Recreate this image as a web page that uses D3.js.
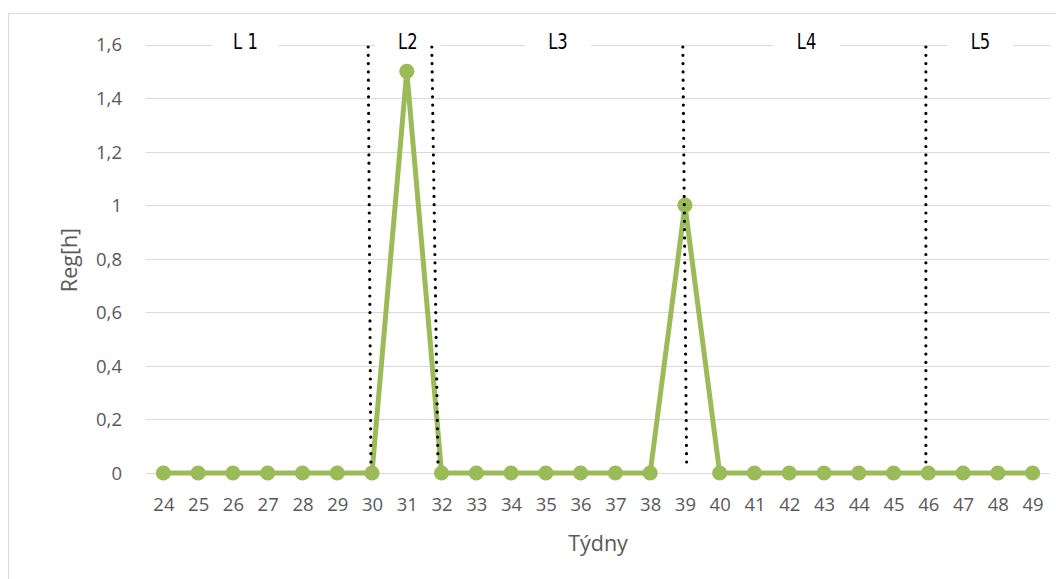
<!DOCTYPE html>
<html><head><meta charset="utf-8">
<script src="https://cdn.jsdelivr.net/npm/d3@7"></script>
<style>body{margin:0;background:#fff}svg{display:block}</style>
</head><body>
<svg id="c" width="1056" height="579"></svg>
<script>
const weeks = [24,25,26,27,28,29,30,31,32,33,34,35,36,37,38,39,40,41,42,43,44,45,46,47,48,49];
const regValues = [0,0,0,0,0,0,0,1.5,0,0,0,0,0,0,0,1,0,0,0,0,0,0,0,0,0,0];
const yTicks = [0,0.2,0.4,0.6,0.8,1,1.2,1.4,1.6];
const phaseLabels = ["L 1","L2","L3","L4","L5"];
const phaseLabelWeeks = [26.36,31.03,35.35,42.5,47.5];
const dividerTopWeeks = [29.89,31.72,38.94,45.93];
const dividerBottomWeeks = [29.97,31.9,39.05,45.93];

const svg = d3.select("#c");
const m = {l:146, r:1050, t:44.5, b:473};
const font = "'Open Sans', 'Noto Sans', sans-serif";

// frame
svg.append("rect").attr("x",8.5).attr("y",13.5).attr("width",1060).attr("height",600)
  .attr("fill","none").attr("stroke","#d9d9d9").attr("stroke-width",1);

const x = d3.scalePoint().domain(weeks).range([m.l, m.r]).padding(0.5);
const step = x.step();
const xLin = w => x(weeks[0]) + (w - weeks[0]) * step;
const y = d3.scaleLinear().domain([0,1.6]).range([m.b, m.t]);

// gridlines
svg.append("g").selectAll("line").data(yTicks).join("line")
  .attr("x1",m.l).attr("x2",m.r)
  .attr("y1",d=>Math.round(y(d))+0.5).attr("y2",d=>Math.round(y(d))+0.5)
  .attr("stroke","#d9d9d9").attr("stroke-width",1.2);

const fmt = d => String(d).replace(".", ",");
// y axis labels
const yAxis = d3.axisLeft(y).tickValues(yTicks).tickFormat(fmt).tickSize(0).tickPadding(0);
const gy = svg.append("g").attr("transform",`translate(122,0)`).call(yAxis);
gy.select(".domain").remove();
gy.selectAll("text").attr("fill","#595959").attr("font-size","18.5px")
  .attr("font-family",font).attr("dy","0.35em");

// x axis labels
const xAxis = d3.axisBottom(x).tickSize(0).tickPadding(0);
const gx = svg.append("g").attr("transform",`translate(0,498)`).call(xAxis);
gx.select(".domain").remove();
gx.selectAll("text").attr("fill","#595959").attr("font-size","18.5px")
  .attr("font-family",font);

// axis titles
svg.append("text").attr("x",598).attr("y",551).attr("text-anchor","middle")
  .attr("fill","#595959").attr("font-size","21.5px")
  .attr("font-family",font).text("Týdny");
svg.append("text").attr("transform","translate(77,260) rotate(-90)").attr("text-anchor","middle")
  .attr("fill","#595959").attr("font-size","21.5px")
  .attr("font-family",font).text("Reg[h]");

// series
const data = weeks.map((w,i)=>({w, v: regValues[i]}));
svg.append("path").datum(data)
  .attr("d", d3.line().x(d=>x(d.w)).y(d=>y(d.v)))
  .attr("fill","none").attr("stroke","#9BBB59").attr("stroke-width",5).attr("stroke-linejoin","round");
svg.append("g").selectAll("circle").data(data).join("circle")
  .attr("cx",d=>x(d.w)).attr("cy",d=>y(d.v)).attr("r",7.6).attr("fill","#9BBB59");

// label backgrounds and labels
const lg = svg.append("g");
phaseLabels.forEach((t,i)=>{
  const cx = xLin(phaseLabelWeeks[i]);
  lg.append("rect").attr("x",cx-33).attr("y",33).attr("width",66).attr("height",20).attr("fill","#fff");
  lg.append("text").attr("transform",`translate(${cx},49) scale(0.78,1)`).attr("text-anchor","middle")
    .attr("fill","#000").attr("font-size","21px")
    .attr("font-family","'DejaVu Sans', sans-serif").text(t);
});

// dotted dividers
svg.append("g").selectAll("line").data(dividerTopWeeks).join("line")
  .attr("x1",d=>xLin(d)).attr("y1",47)
  .attr("x2",(d,i)=>xLin(dividerBottomWeeks[i])).attr("y2",469)
  .attr("stroke","#000").attr("stroke-width",3.2).attr("stroke-linecap","round")
  .attr("stroke-dasharray","0 8.3");
</script>
</body></html>
